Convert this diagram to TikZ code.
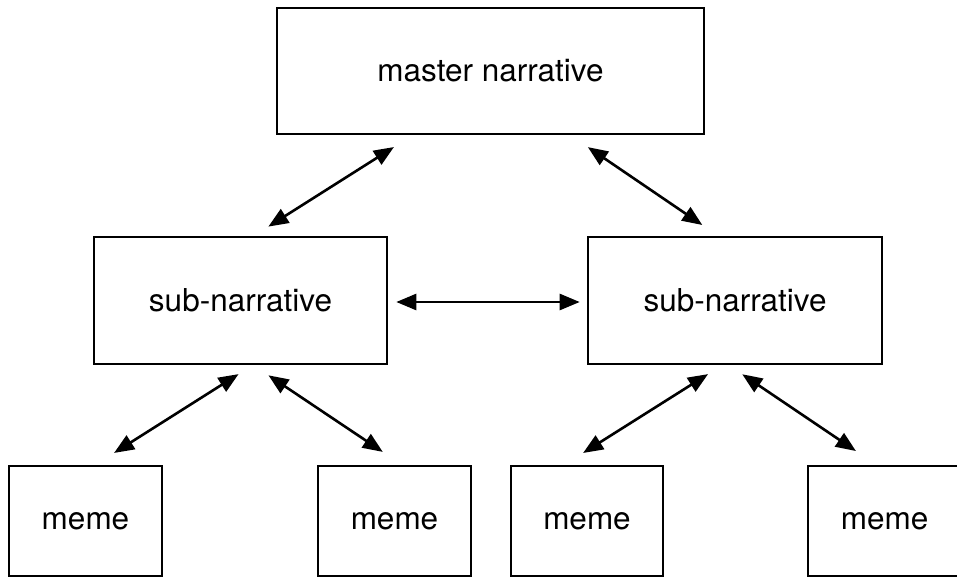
\documentclass[tikz,border=0pt]{standalone}
\usepackage{fontspec}
\setmainfont{TeX Gyre Heros}
\usetikzlibrary{arrows.meta}

\tikzset{
  box/.style={draw,line width=2.6pt,rectangle,inner sep=0pt,font=\fontsize{31.5}{37}\selectfont},
  link/.style={<->,line width=2.6pt}
}

\begin{document}
\begin{tikzpicture}[>={Triangle[length=20pt,width=16pt]},x=1pt,y=-1pt]
\useasboundingbox (0,0) rectangle (957,577);
% master
\node[box,minimum width=427pt,minimum height=126pt] (master) at (490.5,71) {master narrative};
% sub narratives
\node[box,minimum width=293pt,minimum height=127pt] (lsub) at (240.5,300.5) {sub-narrative};
\node[box,minimum width=294pt,minimum height=127pt] (rsub) at (735,300.5) {sub-narrative};
% memes
\node[box,minimum width=153pt,minimum height=110pt] (meme1) at (85.5,521) {meme};
\node[box,minimum width=153pt,minimum height=110pt] (meme2) at (394.5,521) {meme};
\node[box,minimum width=152pt,minimum height=110pt] (meme3) at (587,521) {meme};
\node[box,minimum width=153pt,minimum height=110pt] (meme4) at (884.5,521) {meme};
% master to subs
\draw[link,shorten <=22pt,shorten >=17pt] ([xshift=-78pt]master.south)--([xshift=13.5pt]lsub.north);
\draw[link,shorten <=21pt,shorten >=19pt] ([xshift=80pt]master.south)--([xshift=-17pt]rsub.north);
% sub to sub
\draw[link,shorten <=8pt,shorten >=7pt] ([yshift=-1.5pt]lsub.east)--([yshift=-1.5pt]rsub.west);
% left sub to memes
\draw[link,shorten <=16.5pt,shorten >=22pt] ([xshift=12pt]lsub.south)--([xshift=10pt]meme1.north);
\draw[link,shorten <=18pt,shorten >=23pt] ([xshift=13pt]lsub.south)--([xshift=7.4pt]meme2.north);
% right sub to memes
\draw[link,shorten <=16.5pt,shorten >=22pt] ([xshift=-13pt]rsub.south)--([xshift=-22.5pt]meme3.north);
\draw[link,shorten <=16pt,shorten >=24.5pt] ([xshift=-6pt]rsub.south)--([xshift=-8.3pt]meme4.north);
\end{tikzpicture}
\end{document}
